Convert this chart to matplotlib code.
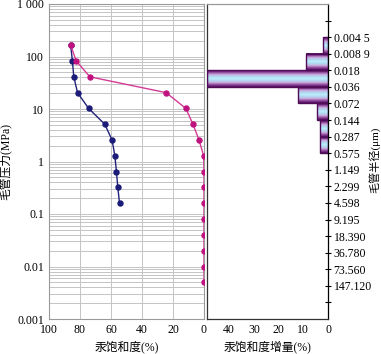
import matplotlib.pyplot as plt
import numpy as np
from matplotlib.colors import LinearSegmentedColormap
from matplotlib.ticker import LogLocator, NullFormatter

plt.rcParams['font.family'] = ['Liberation Serif', 'Noto Sans CJK SC']
plt.rcParams['font.size'] = 8.5

# capillary pressure steps (MPa)
pressure = [163.84, 81.92, 40.96, 20.48, 10.24, 5.12, 2.56, 1.28,
            0.64, 0.32, 0.16, 0.08, 0.04, 0.02, 0.01, 0.005]
# mercury saturation, intrusion (%)
sat_in = [86.0, 82.4, 73.6, 24.4, 11.7, 7.1, 3.2, 0.2,
          0.0, 0.0, 0.0, 0.0, 0.0, 0.0, 0.0, 0.0]
# mercury saturation, withdrawal (%)
pressure_out = [163.84, 81.92, 40.96, 20.48, 10.24, 5.12, 2.56, 1.28,
                0.64, 0.32, 0.16]
sat_out = [86.0, 84.9, 84.0, 81.6, 74.4, 64.0, 59.3, 57.5, 56.5, 55.6, 54.5]

# pore throat radius classes (um) and saturation increment (%)
radius_labels = ['0.004 5', '0.008 9', '0.018', '0.036', '0.072', '0.144',
                 '0.287', '0.575', '1.149', '2.299', '4.598', '9.195',
                 '18.390', '36.780', '73.560', '147.120']
increment = [2.0, 8.9, 49.2, 12.1, 4.6, 3.2, 3.2]

p_ticks = [0.001, 0.01, 0.1, 1, 10, 100, 1000]
p_labels = ['0.001', '0.01', '0.1', '1', '10', '100', '1 000']

fig = plt.figure(figsize=(3.81, 3.54), dpi=100)
ax1 = fig.add_axes([49/381, 35/354, 155/381, 315/354])
ax2 = fig.add_axes([207/381, 35/354, 121/381, 315/354])

# left: capillary pressure curves
grid_c = '#c4c4c4'
ax1.set_yscale('log')
ax1.set_ylim(0.001, 1000)
ax1.set_xlim(100, 0)
ax1.set_yticks(p_ticks)
ax1.set_yticklabels(p_labels)
ax1.yaxis.set_minor_locator(LogLocator(subs=range(2, 10), numticks=20))
ax1.yaxis.set_minor_formatter(NullFormatter())
ax1.set_xticks([100, 80, 60, 40, 20, 0])
ax1.grid(which='both', axis='y', color=grid_c, lw=0.7)
ax1.grid(which='major', axis='x', color=grid_c, lw=0.7)
ax1.tick_params(which='both', length=0)
for s in ax1.spines.values():
    s.set_color('#9a9a9a')
    s.set_linewidth(0.8)

ax1.plot(sat_out, pressure_out, color='#22227a', lw=1, marker='o',
         ms=3.6, mfc='#1c1c78', mec='#1c1c78', zorder=3)
ax1.plot(sat_in, pressure, color='#d43a96', lw=1, marker='o',
         ms=3.6, mfc='#c0127e', mec='#c0127e', zorder=3)

ax1.set_xlabel('汞饱和度(%)', labelpad=3)
ax1.set_ylabel('毛管压力(MPa)', labelpad=4)

# right: saturation increment histogram
cmap = LinearSegmentedColormap.from_list('bar', [
    (0.0, '#4e0c58'), (0.12, '#8c3f98'), (0.27, '#cdb2e0'),
    (0.4, '#aadcf3'), (0.5, '#c4ecfb'), (0.6, '#aadcf3'),
    (0.73, '#cdb2e0'), (0.88, '#8c3f98'), (1.0, '#4e0c58')])
grad = np.linspace(0, 1, 64).reshape(-1, 1)
for i, v in enumerate(increment):
    y0 = 2 + i
    ax2.imshow(grad, cmap=cmap, aspect='auto', extent=(0, v, y0 + 1, y0),
               interpolation='bilinear', zorder=2)
    ax2.barh(y0 + 0.5, v, height=1, fill=False, edgecolor='#4e0c58',
             lw=1, zorder=3)

ax2.set_xlim(49, 0)
ax2.set_ylim(19, 0)
ax2.set_xticks([40, 30, 20, 10, 0])
ax2.set_yticks(range(1, 19))
ax2.set_yticklabels([''] + radius_labels + [''])
ax2.yaxis.tick_right()
ax2.yaxis.set_label_position('right')
ax2.tick_params(axis='y', direction='inout', length=4, width=0.8, pad=2)
ax2.tick_params(axis='x', length=0)
for name, s in ax2.spines.items():
    s.set_linewidth(0.9)
    s.set_color('#333333')
ax2.spines['top'].set_color('#9a9a9a')
ax2.spines['right'].set_color('black')

ax2.set_xlabel('汞饱和度增量(%)', labelpad=3)
ax2.set_ylabel('毛管半径(μm)', rotation=90, va='center', fontsize=8)
ax2.yaxis.set_label_coords(1.38, 0.505)

fig.savefig('out.png', dpi=100)
